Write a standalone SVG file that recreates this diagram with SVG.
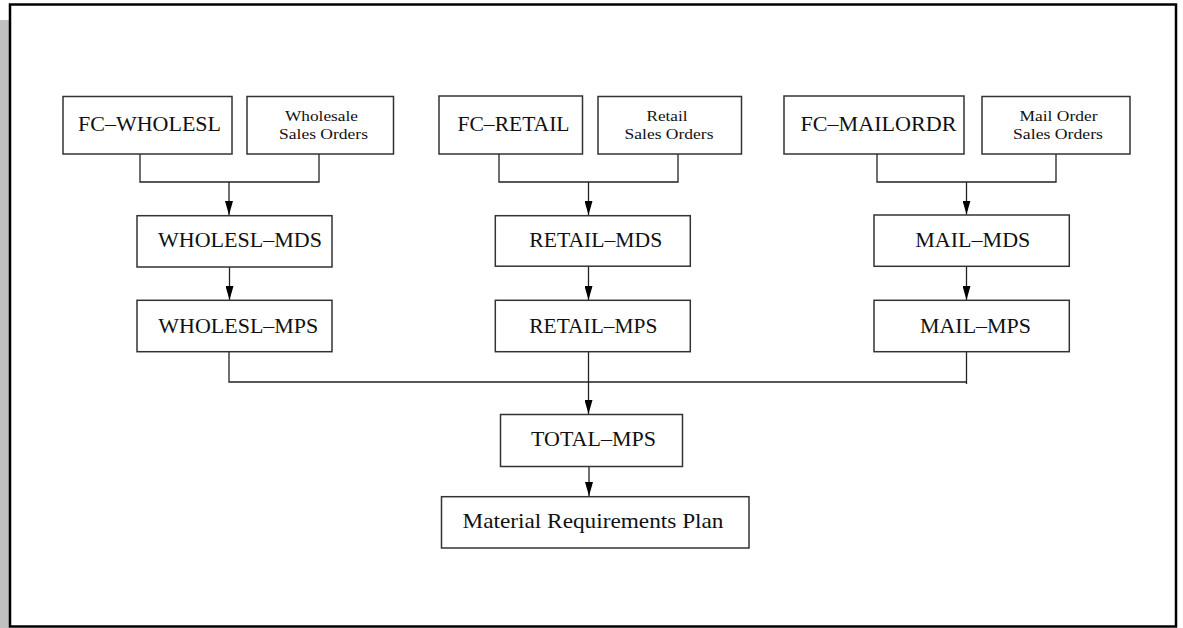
<svg xmlns="http://www.w3.org/2000/svg" width="1183" height="628" viewBox="0 0 1183 628">
<style>
.box{fill:#fff;stroke:#333;stroke-width:1.5}
.big{font-family:"Liberation Serif","Times New Roman",serif;font-size:22px;fill:#111}
.small{font-family:"Liberation Serif","Times New Roman",serif;font-size:15.5px;fill:#111}
.con{fill:none;stroke:#222;stroke-width:1.3}
</style>
<defs>
<marker id="arr" markerUnits="userSpaceOnUse" markerWidth="14" markerHeight="8" refX="14" refY="4" orient="auto" viewBox="0 0 14 8">
<path d="M0,0 L14,4 L0,8 Z" fill="#000"/>
</marker>
</defs>
<rect x="0" y="0" width="1183" height="628" fill="#fff"/>
<rect x="0" y="20" width="9" height="608" fill="#c0c0c0"/>
<rect x="10" y="4.5" width="1166" height="622" fill="#fff" stroke="#000" stroke-width="2.5"/>

<g id="connectors">
<path class="con" d="M140,154 V182 H319 V154"/>
<path class="con" d="M499,154 V182 H678 V154"/>
<path class="con" d="M877,154 V182 H1056 V154"/>
<path class="con" d="M229,352 V382 H966"/>
<path class="con" d="M966.5,352 V384"/>
<path class="con" d="M588.5,352 V382"/>
<path class="con" d="M229,182 V215" marker-end="url(#arr)"/>
<path class="con" d="M588.5,182 V215" marker-end="url(#arr)"/>
<path class="con" d="M966.5,182 V214.5" marker-end="url(#arr)"/>
<path class="con" d="M229.5,267 V300" marker-end="url(#arr)"/>
<path class="con" d="M588.5,266 V300" marker-end="url(#arr)"/>
<path class="con" d="M966.5,266.5 V300" marker-end="url(#arr)"/>
<path class="con" d="M588.5,382 V414" marker-end="url(#arr)"/>
<path class="con" d="M589,466.5 V496" marker-end="url(#arr)"/>
</g>

<g id="n-fc-wholesl"><rect class="box" x="63" y="96.5" width="169" height="57.5"/><text class="big" x="78" y="131" textLength="143" lengthAdjust="spacingAndGlyphs">FC–WHOLESL</text></g>
<g id="n-wholesale-so"><rect class="box" x="247" y="96.5" width="146.5" height="57.5"/><text class="small" x="285" y="120.7" textLength="73" lengthAdjust="spacingAndGlyphs">Wholesale</text><text class="small" x="279" y="139" textLength="89" lengthAdjust="spacingAndGlyphs">Sales Orders</text></g>
<g id="n-fc-retail"><rect class="box" x="439" y="96" width="143.5" height="58"/><text class="big" x="457.5" y="131" textLength="112" lengthAdjust="spacingAndGlyphs">FC–RETAIL</text></g>
<g id="n-retail-so"><rect class="box" x="598" y="96.5" width="143.5" height="57.5"/><text class="small" x="646.5" y="120.7" textLength="41" lengthAdjust="spacingAndGlyphs">Retail</text><text class="small" x="624.5" y="139" textLength="89" lengthAdjust="spacingAndGlyphs">Sales Orders</text></g>
<g id="n-fc-mailordr"><rect class="box" x="784" y="96" width="180" height="58"/><text class="big" x="800.5" y="131" textLength="156" lengthAdjust="spacingAndGlyphs">FC–MAILORDR</text></g>
<g id="n-mail-so"><rect class="box" x="982" y="96.5" width="148" height="57.5"/><text class="small" x="1019.5" y="120.7" textLength="78" lengthAdjust="spacingAndGlyphs">Mail Order</text><text class="small" x="1013" y="139" textLength="90" lengthAdjust="spacingAndGlyphs">Sales Orders</text></g>

<g id="n-wholesl-mds"><rect class="box" x="137" y="215.7" width="195" height="51.3"/><text class="big" x="158" y="246.7" textLength="164" lengthAdjust="spacingAndGlyphs">WHOLESL–MDS</text></g>
<g id="n-retail-mds"><rect class="box" x="495.3" y="215.7" width="195" height="50.5"/><text class="big" x="529.3" y="246.7" textLength="133" lengthAdjust="spacingAndGlyphs">RETAIL–MDS</text></g>
<g id="n-mail-mds"><rect class="box" x="874" y="215" width="195.3" height="51.3"/><text class="big" x="915.3" y="246.7" textLength="115" lengthAdjust="spacingAndGlyphs">MAIL–MDS</text></g>

<g id="n-wholesl-mps"><rect class="box" x="137" y="300.3" width="195" height="51.4"/><text class="big" x="158.3" y="332.7" textLength="160" lengthAdjust="spacingAndGlyphs">WHOLESL–MPS</text></g>
<g id="n-retail-mps"><rect class="box" x="495.3" y="300.3" width="195" height="51.4"/><text class="big" x="529.3" y="332.7" textLength="128" lengthAdjust="spacingAndGlyphs">RETAIL–MPS</text></g>
<g id="n-mail-mps"><rect class="box" x="874" y="300.3" width="195.3" height="51.4"/><text class="big" x="920" y="332.7" textLength="111" lengthAdjust="spacingAndGlyphs">MAIL–MPS</text></g>

<g id="n-total-mps"><rect class="box" x="500.5" y="414.5" width="182" height="52"/><text class="big" x="531" y="446" textLength="125" lengthAdjust="spacingAndGlyphs">TOTAL–MPS</text></g>
<g id="n-mrp"><rect class="box" x="441.5" y="496.7" width="307.5" height="51.3"/><text class="big" x="462.5" y="528" textLength="261" lengthAdjust="spacingAndGlyphs">Material Requirements Plan</text></g>
</svg>
